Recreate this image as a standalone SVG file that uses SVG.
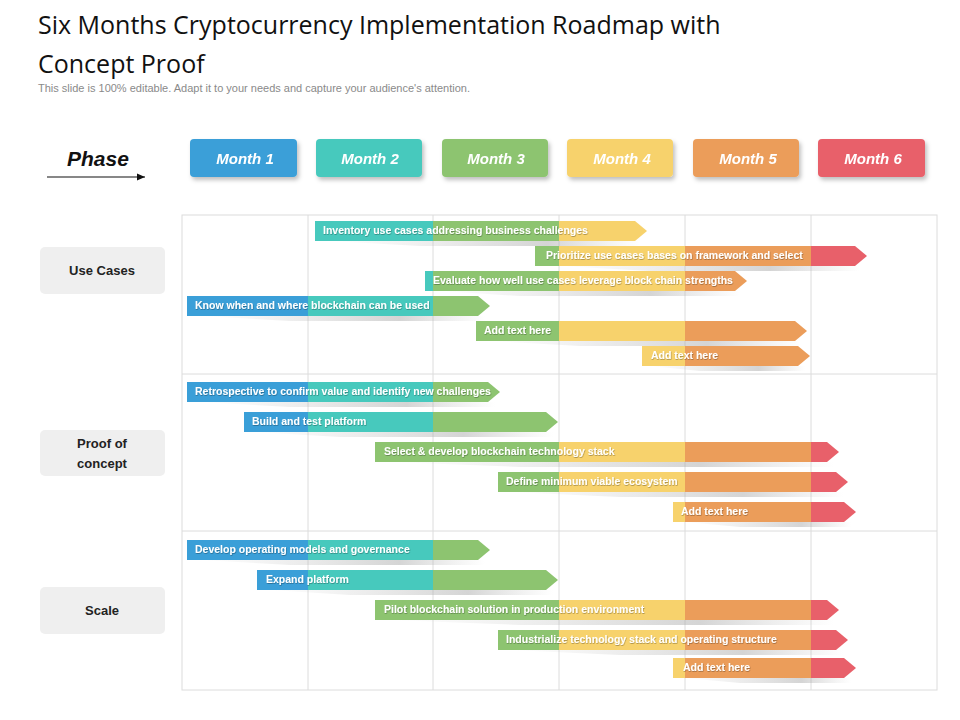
<svg xmlns="http://www.w3.org/2000/svg" width="960" height="720" viewBox="0 0 960 720">
<defs>
<style>
.t{font-family:"Open Sans","Liberation Sans",sans-serif;}
.title{font-size:25px;fill:#111;}
.sub{font-family:"Liberation Sans",sans-serif;font-size:11px;fill:#8a8a8a;}
.mb{stroke:none;}
.mt{font-family:"Liberation Sans",sans-serif;font-size:15px;font-weight:bold;font-style:italic;fill:#fff;text-anchor:middle;}
.rl{fill:#efefef;}
.rt{font-family:"Liberation Sans",sans-serif;font-size:13px;font-weight:bold;fill:#222;text-anchor:middle;}
.grid{stroke:#dcdcdc;stroke-width:1;fill:none;}
.bt{font-family:"Liberation Sans",sans-serif;font-size:10.5px;font-weight:bold;fill:#fff;filter:url(#ts);}
.b1{fill:#3a9fd8}.b2{fill:#47c9bd}.b3{fill:#8dc470}.b4{fill:#f7d26c}.b5{fill:#eb9d5a}.b6{fill:#e8606a}
.sh{fill:url(#sg);}
</style>
<filter id="ts" x="-5%" y="-30%" width="110%" height="160%"><feDropShadow dx="0.5" dy="0.8" stdDeviation="0.5" flood-color="#000" flood-opacity="0.35"/></filter>
<filter id="bs" x="-10%" y="-20%" width="120%" height="160%"><feDropShadow dx="2" dy="3" stdDeviation="2" flood-color="#000" flood-opacity="0.25"/></filter>
<linearGradient id="sg" x1="0" y1="0" x2="1" y2="0"><stop offset="0" stop-color="#bbb" stop-opacity="0"/><stop offset="0.7" stop-color="#aaa" stop-opacity="0.5"/><stop offset="1" stop-color="#bbb" stop-opacity="0"/></linearGradient>
<marker id="ah" markerWidth="8" markerHeight="8" refX="7" refY="4" orient="auto"><path d="M0,1 L7,4 L0,7 z" fill="#111"/></marker>
</defs>
<rect width="960" height="720" fill="#fff"/>
<g id="title">
<text class="t title" x="38" y="34">Six Months Cryptocurrency Implementation Roadmap with</text>
<text class="t title" x="38" y="73">Concept Proof</text>
<text class="sub" x="38" y="92">This slide is 100% editable. Adapt it to your needs and capture your audience's attention.</text>
</g>
<g id="phase">
<text x="67" y="166" font-family="Liberation Sans,sans-serif" font-size="21" font-weight="bold" font-style="italic" fill="#111">Phase</text>
<line x1="47" y1="177" x2="145" y2="177" stroke="#111" stroke-width="1.2" marker-end="url(#ah)"/>
</g>
<g id="months" filter="url(#bs)">
<g id="m1"><rect class="b1" x="190" y="139" width="107" height="38" rx="4"/><text class="mt" x="245" y="164">Month 1</text></g>
<g id="m2"><rect class="b2" x="316" y="139" width="106" height="38" rx="4"/><text class="mt" x="370" y="164">Month 2</text></g>
<g id="m3"><rect class="b3" x="442" y="139" width="106" height="38" rx="4"/><text class="mt" x="496" y="164">Month 3</text></g>
<g id="m4"><rect class="b4" x="567" y="139" width="106" height="38" rx="4"/><text class="mt" x="622" y="164">Month 4</text></g>
<g id="m5"><rect class="b5" x="693" y="139" width="106" height="38" rx="4"/><text class="mt" x="748" y="164">Month 5</text></g>
<g id="m6"><rect class="b6" x="818" y="139" width="107" height="38" rx="4"/><text class="mt" x="873" y="164">Month 6</text></g>
</g>
<g id="grid">
<rect class="grid" x="182" y="215" width="755" height="475"/>
<path class="grid" d="M308,215V690M433,215V690M559,215V690M685,215V690M811,215V690M182,374H937M182,531H937"/>
</g>
<g id="row-use-cases"><rect class="rl" x="40" y="247" width="125" height="47" rx="5"/><text class="rt" x="102" y="275">Use Cases</text></g>
<g id="row-proof"><rect class="rl" x="40" y="430" width="125" height="46" rx="5"/><text class="rt" x="102" y="448">Proof of</text><text class="rt" x="102" y="468">concept</text></g>
<g id="row-scale"><rect class="rl" x="40" y="587" width="125" height="47" rx="5"/><text class="rt" x="102" y="615">Scale</text></g>
<g id="bars">
<!-- shadows -->
<g id="shadows">
<polygon class="sh" points="330,241 640,241 640,246 420,246"/>
<polygon class="sh" points="560,266 860,266 860,271 650,271"/>
<polygon class="sh" points="440,291 740,291 740,296 520,296"/>
<polygon class="sh" points="200,316 485,316 485,321 290,321"/>
<polygon class="sh" points="490,341 800,341 800,346 580,346"/>
<polygon class="sh" points="650,366 805,366 805,371 700,371"/>
<polygon class="sh" points="200,402 495,402 495,407 290,407"/>
<polygon class="sh" points="255,432 553,432 553,437 340,437"/>
<polygon class="sh" points="390,462 834,462 834,467 520,467"/>
<polygon class="sh" points="510,492 843,492 843,497 620,497"/>
<polygon class="sh" points="685,522 851,522 851,527 740,527"/>
<polygon class="sh" points="200,560 485,560 485,565 290,565"/>
<polygon class="sh" points="270,590 553,590 553,595 350,595"/>
<polygon class="sh" points="390,620 834,620 834,625 520,625"/>
<polygon class="sh" points="510,650 843,650 843,655 620,655"/>
<polygon class="sh" points="685,678 851,678 851,683 740,683"/>
</g>
<g id="bar1"><rect class="b2" x="315" y="221" width="118" height="20"/><rect class="b3" x="433" y="221" width="126" height="20"/><polygon class="b4" points="559,221 635,221 647,231 635,241 559,241"/><text class="bt" x="323" y="234">Inventory use cases addressing business challenges</text></g>
<g id="bar2"><rect class="b3" x="535" y="246" width="24" height="20"/><rect class="b4" x="559" y="246" width="126" height="20"/><rect class="b5" x="685" y="246" width="126" height="20"/><polygon class="b6" points="811,246 855,246 867,256 855,266 811,266"/><text class="bt" x="546" y="259">Prioritize  use cases bases on framework and select</text></g>
<g id="bar3"><rect class="b2" x="425" y="271" width="8" height="20"/><rect class="b3" x="433" y="271" width="126" height="20"/><rect class="b4" x="559" y="271" width="126" height="20"/><polygon class="b5" points="685,271 735,271 747,281 735,291 685,291"/><text class="bt" x="433" y="284">Evaluate how well use cases leverage block chain strengths</text></g>
<g id="bar4"><rect class="b1" x="187" y="296" width="121" height="20"/><rect class="b2" x="308" y="296" width="125" height="20"/><polygon class="b3" points="433,296 478,296 490,306 478,316 433,316"/><text class="bt" x="195" y="309">Know when and where blockchain can be used</text></g>
<g id="bar5"><rect class="b3" x="476" y="321" width="83" height="20"/><rect class="b4" x="559" y="321" width="126" height="20"/><polygon class="b5" points="685,321 795,321 807,331 795,341 685,341"/><text class="bt" x="484" y="334">Add text here</text></g>
<g id="bar6"><rect class="b4" x="642" y="346" width="43" height="20"/><polygon class="b5" points="685,346 798,346 810,356 798,366 685,366"/><text class="bt" x="651" y="359">Add text here</text></g>
<g id="bar7"><rect class="b1" x="187" y="382" width="121" height="20"/><rect class="b2" x="308" y="382" width="125" height="20"/><polygon class="b3" points="433,382 488,382 500,392 488,402 433,402"/><text class="bt" x="195" y="395">Retrospective to confirm value and identify new challenges</text></g>
<g id="bar8"><rect class="b1" x="244" y="412" width="64" height="20"/><rect class="b2" x="308" y="412" width="125" height="20"/><polygon class="b3" points="433,412 546,412 558,422 546,432 433,432"/><text class="bt" x="252" y="425">Build and test platform</text></g>
<g id="bar9"><rect class="b3" x="375" y="442" width="184" height="20"/><rect class="b4" x="559" y="442" width="126" height="20"/><rect class="b5" x="685" y="442" width="126" height="20"/><polygon class="b6" points="811,442 827,442 839,452 827,462 811,462"/><text class="bt" x="384" y="455">Select &amp; develop  blockchain technology stack</text></g>
<g id="bar10"><rect class="b3" x="498" y="472" width="61" height="20"/><rect class="b4" x="559" y="472" width="126" height="20"/><rect class="b5" x="685" y="472" width="126" height="20"/><polygon class="b6" points="811,472 836,472 848,482 836,492 811,492"/><text class="bt" x="506" y="485">Define minimum viable ecosystem</text></g>
<g id="bar11"><rect class="b4" x="673" y="502" width="12" height="20"/><rect class="b5" x="685" y="502" width="126" height="20"/><polygon class="b6" points="811,502 844,502 856,512 844,522 811,522"/><text class="bt" x="681" y="515">Add text here</text></g>
<g id="bar12"><rect class="b1" x="187" y="540" width="121" height="20"/><rect class="b2" x="308" y="540" width="125" height="20"/><polygon class="b3" points="433,540 478,540 490,550 478,560 433,560"/><text class="bt" x="195" y="553">Develop operating models and governance</text></g>
<g id="bar13"><rect class="b1" x="257" y="570" width="51" height="20"/><rect class="b2" x="308" y="570" width="125" height="20"/><polygon class="b3" points="433,570 546,570 558,580 546,590 433,590"/><text class="bt" x="266" y="583">Expand platform</text></g>
<g id="bar14"><rect class="b3" x="375" y="600" width="184" height="20"/><rect class="b4" x="559" y="600" width="126" height="20"/><rect class="b5" x="685" y="600" width="126" height="20"/><polygon class="b6" points="811,600 827,600 839,610 827,620 811,620"/><text class="bt" x="384" y="613">Pilot blockchain solution in production environment</text></g>
<g id="bar15"><rect class="b3" x="498" y="630" width="61" height="20"/><rect class="b4" x="559" y="630" width="126" height="20"/><rect class="b5" x="685" y="630" width="126" height="20"/><polygon class="b6" points="811,630 836,630 848,640 836,650 811,650"/><text class="bt" x="506" y="643">Industrialize technology stack and operating structure</text></g>
<g id="bar16"><rect class="b4" x="673" y="658" width="12" height="20"/><rect class="b5" x="685" y="658" width="126" height="20"/><polygon class="b6" points="811,658 844,658 856,668 844,678 811,678"/><text class="bt" x="683" y="671">Add text here</text></g>
</g>
</svg>
